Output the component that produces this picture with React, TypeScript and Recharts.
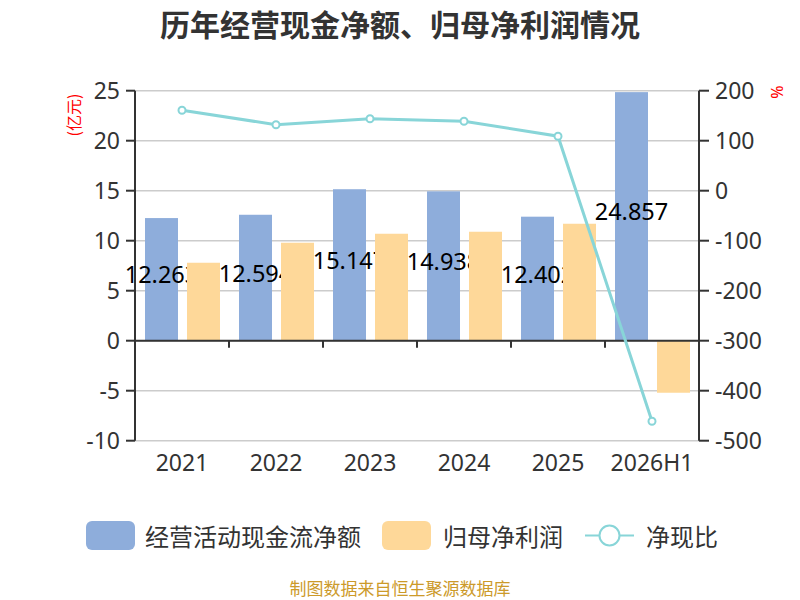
import React from "react";
import {
	ComposedChart,
	Bar,
	Line,
	XAxis,
	YAxis,
	CartesianGrid,
	ReferenceLine,
} from "recharts";

const years = ["2021", "2022", "2023", "2024", "2025", "2026H1"];
const cashFlow = [12.263, 12.594, 15.147, 14.938, 12.402, 24.857];
const netProfit = [7.8, 9.8, 10.7, 10.9, 11.7, -5.2];
const cashRatio = [161, 132, 144, 139, 109, -461];
const leftTicks = [-10, -5, 0, 5, 10, 15, 20, 25];
const rightTicks = [-500, -400, -300, -200, -100, 0, 100, 200];

const data = years.map((year, i) => ({
	year,
	cashFlow: cashFlow[i],
	netProfit: netProfit[i],
	cashRatio: cashRatio[i],
}));

const BLUE = "#8eaddb";
const ORANGE = "#fed899";
const TEAL = "#88d5d8";
const NUM_FONT = "'Noto Sans', 'Noto Sans CJK SC', sans-serif";
const CJK_FONT = "'Noto Sans CJK SC', sans-serif";

// zero line with the small category ticks hanging under it
const ZeroAxis = (props: any) => {
	const { x1, y1, x2 } = props;
	const step = (x2 - x1) / years.length;
	return (
		<g>
			<line x1={x1} y1={y1} x2={x2} y2={y1} stroke="#333" strokeWidth={2} />
			{years.slice(1).map((_, i) => (
				<line
					key={i}
					x1={x1 + step * (i + 1)}
					x2={x1 + step * (i + 1)}
					y1={y1}
					y2={y1 + 7}
					stroke="#333"
					strokeWidth={2}
				/>
			))}
		</g>
	);
};

// blue bar draws its own value so the next (orange) bar can sit on top of it
const CashBar = (props: any) => {
	const { x, y, width, height, payload } = props;
	return (
		<g>
			<rect x={x} y={y} width={width} height={height} fill={BLUE} />
			<text
				x={x + width / 2}
				y={y + height / 2 - 5}
				textAnchor="middle"
				dominantBaseline="central"
				fill="#000"
				fontSize={23.5}
				fontFamily={NUM_FONT}
			>
				{payload.cashFlow}
			</text>
		</g>
	);
};

const App: React.FC = () => {
	const tick = { fill: "#333", fontSize: 23, fontFamily: NUM_FONT };
	return (
		<div
			style={{
				position: "absolute",
				left: 0,
				top: 0,
				width: 800,
				height: 600,
				background: "#fff",
				overflow: "hidden",
			}}
		>
			<div
				style={{
					position: "absolute",
					top: 1,
					width: 800,
					textAlign: "center",
					fontFamily: CJK_FONT,
					fontWeight: 700,
					fontSize: 30,
					color: "#333",
				}}
			>
				历年经营现金净额、归母净利润情况
			</div>
			<div
				style={{
					position: "absolute",
					left: 73,
					top: 115,
					transform: "translate(-50%, -50%) rotate(-90deg)",
					color: "#f00",
					fontFamily: CJK_FONT,
					fontSize: 16,
					whiteSpace: "nowrap",
				}}
			>
				(亿元)
			</div>
			<div
				style={{
					position: "absolute",
					left: 777,
					top: 92,
					transform: "translate(-50%, -50%) rotate(-90deg)",
					color: "#f00",
					fontFamily: NUM_FONT,
					fontSize: 16,
				}}
			>
				%
			</div>
			<ComposedChart
				width={800}
				height={600}
				data={data}
				margin={{ top: 90.7, right: 41, bottom: 119.3, left: 75 }}
				barSize={33}
				barGap={9}
				style={{ position: "absolute", left: 0, top: 0 }}
			>
				<CartesianGrid
					vertical={false}
					stroke="#ccc"
					strokeWidth={1.5}
					yAxisId="left"
				/>
				<XAxis
					dataKey="year"
					axisLine={false}
					tickLine={false}
					tickMargin={8}
					height={40}
					tick={tick}
					interval={0}
				/>
				<YAxis
					yAxisId="left"
					domain={[-10, 25]}
					ticks={leftTicks}
					width={60}
					axisLine={{ stroke: "#333", strokeWidth: 2 }}
					tickLine={{ stroke: "#333", strokeWidth: 2 }}
					tickSize={9}
					tickMargin={6}
					tick={tick}
				/>
				<YAxis
					yAxisId="right"
					orientation="right"
					domain={[-500, 200]}
					ticks={rightTicks}
					width={60}
					axisLine={{ stroke: "#333", strokeWidth: 2 }}
					tickLine={{ stroke: "#333", strokeWidth: 2 }}
					tickSize={10}
					tickMargin={6}
					tick={tick}
				/>
				<Bar
					yAxisId="left"
					dataKey="cashFlow"
					fill={BLUE}
					shape={CashBar}
					isAnimationActive={false}
				/>
				<Bar
					yAxisId="left"
					dataKey="netProfit"
					fill={ORANGE}
					isAnimationActive={false}
				/>
				<ReferenceLine yAxisId="left" y={0} shape={ZeroAxis} />
				<Line
					yAxisId="right"
					dataKey="cashRatio"
					stroke={TEAL}
					strokeWidth={3}
					dot={{ r: 3.5, fill: "#fff", stroke: TEAL, strokeWidth: 2 }}
					isAnimationActive={false}
				/>
			</ComposedChart>
			<div
				style={{
					position: "absolute",
					top: 518,
					left: 86,
					display: "flex",
					alignItems: "center",
					fontFamily: CJK_FONT,
					fontSize: 24,
					color: "#333",
					whiteSpace: "nowrap",
				}}
			>
				<span
					style={{
						width: 49,
						height: 29,
						borderRadius: 6,
						background: BLUE,
						marginRight: 10,
					}}
				/>
				<span style={{ marginRight: 21 }}>经营活动现金流净额</span>
				<span
					style={{
						width: 49,
						height: 29,
						borderRadius: 6,
						background: ORANGE,
						marginRight: 12,
					}}
				/>
				<span style={{ marginRight: 22 }}>归母净利润</span>
				<svg width={49} height={29} style={{ marginRight: 12 }}>
					<line x1={0} x2={49} y1={14.5} y2={14.5} stroke={TEAL} strokeWidth={2} />
					<circle cx={24.5} cy={14.5} r={10} fill="#fff" stroke={TEAL} strokeWidth={2} />
				</svg>
				<span>净现比</span>
			</div>
			<div
				style={{
					position: "absolute",
					top: 578,
					width: 800,
					textAlign: "center",
					fontFamily: CJK_FONT,
					fontSize: 17,
					lineHeight: "20px",
					color: "#cc9a2a",
				}}
			>
				制图数据来自恒生聚源数据库
			</div>
		</div>
	);
};

export default App;
